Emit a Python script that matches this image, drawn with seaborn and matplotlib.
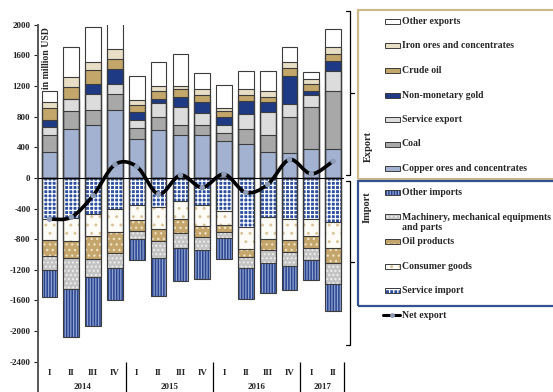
import numpy as np
import matplotlib
matplotlib.use("Agg")
import matplotlib.pyplot as plt
import seaborn as sns
from matplotlib.patches import Rectangle, PathPatch
from matplotlib.path import Path
from matplotlib.lines import Line2D

# ---- data (million USD) ----
quarters = ["I", "II", "III", "IV", "I", "II", "III", "IV", "I", "II", "III", "IV", "I", "II"]
years = ["2014", "2015", "2016", "2017"]
year_sizes = [4, 4, 4, 2]

copper = [343, 635, 696, 883, 509, 630, 565, 565, 478, 439, 343, 326, 383, 374]
coal = [214, 239, 187, 213, 148, 170, 131, 122, 105, 196, 214, 474, 539, 756]
service_exp = [104, 152, 213, 126, 104, 174, 230, 165, 104, 204, 304, 170, 161, 261]
gold = [91, 0, 130, 195, 100, 56, 131, 139, 113, 170, 126, 360, 56, 139]
crude = [165, 165, 183, 131, 87, 109, 100, 92, 74, 78, 74, 100, 87, 83]
iron = [79, 131, 108, 130, 69, 57, 47, 74, 35, 70, 74, 87, 70, 91]
other_exp = [139, 391, 457, 362, 313, 313, 413, 217, 300, 239, 265, 196, 87, 240]

service_imp = [539, 530, 470, 400, 352, 383, 300, 357, 439, 644, 517, 539, 535, 570]
consumer = [274, 292, 291, 309, 200, 287, 239, 269, 174, 286, 283, 274, 230, 343]
oil = [204, 226, 300, 274, 148, 156, 183, 152, 96, 105, 148, 157, 148, 200]
machinery = [192, 409, 235, 200, 100, 218, 191, 161, 82, 148, 169, 178, 157, 274]
other_imp = [348, 621, 643, 417, 270, 495, 435, 383, 266, 395, 387, 322, 269, 348]

net_export = [-539, -513, -230, 174, 148, -213, 35, -126, 48, -191, -87, 239, 52, 217]

# ---- styling ----
sns.set_style("white")
plt.rcParams["font.family"] = ["Liberation Serif", "DejaVu Serif"]
plt.rcParams["font.weight"] = "bold"
plt.rcParams["hatch.linewidth"] = 0.9

W, H = 553, 392
fig = plt.figure(figsize=(W / 100, H / 100), dpi=100)
ax = fig.add_axes([37.5 / W, 0, (344 - 37.5) / W, 367.3 / H])

idx = np.arange(len(quarters))
BAR_W = 0.72
OUTLINE = "#3c3c3c"

# name, values, face, hatch, hatch colour
export_layers = [
    ("Copper ores and concentrates", copper, "#a3b2d0", None, None),
    ("Coal", coal, "#a8a8a8", None, None),
    ("Service export", service_exp, "#dcdcdc", None, None),
    ("Non-monetary gold", gold, "#1e3a84", None, None),
    ("Crude oil", crude, "#c2a66a", None, None),
    ("Iron ores and concentrates", iron, "#e8dec6", None, None),
    ("Other exports", other_exp, "#ffffff", None, None),
]
import_layers = [
    ("Service import", service_imp, "#2d4f9f", "++++", "#ffffff"),
    ("Consumer goods", consumer, "#fdfbf6", "..", "#d9c49a"),
    ("Oil products", oil, "#c4a56b", "...", "#efe3c6"),
    ("Machinery, mechanical equipments\nand parts", machinery, "#c4c4c4", "....", "#f0f0f0"),
    ("Other imports", other_imp, "#2a4590", "||||||", "#8fa2d0"),
]


def draw_stack(layers, sign):
    cums = np.cumsum([np.asarray(v, float) for _, v, *_ in layers], axis=0) * sign
    # fills, outermost first so inner segments sit on top
    for k in range(len(layers) - 1, -1, -1):
        _, _, face, hatch, hcol = layers[k]
        n0 = len(ax.patches)
        sns.barplot(x=idx, y=cums[k], color=face, saturation=1, width=BAR_W,
                    linewidth=0, errorbar=None, ax=ax, zorder=2)
        for p in ax.patches[n0:]:
            p.set_facecolor(face)
            if hatch:
                p.set_edgecolor(hcol)
                p.set_hatch(hatch)
                p.set_linewidth(0)
            else:
                p.set_edgecolor("none")
    # outlines of every segment boundary
    for k in range(len(layers)):
        sns.barplot(x=idx, y=cums[k], fill=False, color=OUTLINE, width=BAR_W,
                    linewidth=0.8, errorbar=None, ax=ax, zorder=3)


draw_stack(export_layers, 1)
draw_stack(import_layers, -1)

ax.axhline(0, color="black", lw=0.8, zorder=4)

# net export: smoothed curve through the quarterly points
pts = np.column_stack([idx, np.asarray(net_export, float)])
verts, codes = [pts[0]], [Path.MOVETO]
for i in range(len(pts) - 1):
    p0 = pts[i - 1] if i > 0 else pts[i]
    p1, p2 = pts[i], pts[i + 1]
    p3 = pts[i + 2] if i + 2 < len(pts) else pts[i + 1]
    verts += [p1 + (p2 - p0) / 6, p2 - (p3 - p1) / 6, p2]
    codes += [Path.CURVE4] * 3
ax.add_patch(PathPatch(Path(verts, codes), fill=False, lw=2.6, edgecolor="black",
                       capstyle="round", joinstyle="round", zorder=6))
sns.scatterplot(x=idx, y=net_export, color="#8e9cb7", s=16, edgecolor="none",
                zorder=7, ax=ax, legend=False)

# axes
ax.set_xlim(-0.55, 13.5)
ax.set_ylim(-2796, 2000)
yt = list(range(-2400, 2001, 400))
ax.set_yticks(yt)
ax.set_yticklabels([str(v) for v in yt], fontsize=6.5, fontweight="bold")
ax.set_xticks([])
ax.set_xlabel("")
ax.set_ylabel("")
for s in ["top", "right", "bottom"]:
    ax.spines[s].set_visible(False)
ax.spines["left"].set_color("#555555")
ax.spines["left"].set_linewidth(1.4)
ax.tick_params(axis="y", direction="out", length=3, width=0.8, pad=2, left=True, colors="#222222")

ax.text(-0.12, 1560, "in million USD", rotation=90, ha="center", va="center",
        fontsize=7, fontweight="bold", zorder=8)

# quarter and year labels under the bars
for i, q in enumerate(quarters):
    ax.text(i, -2545, q, ha="center", va="center", fontsize=6.5, fontweight="bold", clip_on=False)
start = 0
for y, n in zip(years, year_sizes):
    ax.text(start + (n - 1) / 2, -2735, y, ha="center", va="center", fontsize=6.5,
            fontweight="bold", clip_on=False)
    start += n
ax.vlines([3.5, 7.5, 11.5, 13.5], -2796, -2405, colors="black", lw=0.9, clip_on=False)


# ---- side legend ----
def F(x, y):
    return (x / W, 1 - y / H)


def fig_line(xs, ys, **kw):
    fig.add_artist(Line2D([x / W for x in xs], [1 - y / H for y in ys],
                          transform=fig.transFigure, **kw))


def fig_rect(x0, y0, x1, y1, **kw):
    fig.add_artist(Rectangle(F(x0, y1), (x1 - x0) / W, (y1 - y0) / H,
                             transform=fig.transFigure, **kw))


# braces
fig_line([346, 349.5, 349.5, 346], [11, 11, 175, 175], color="black", lw=0.9)
fig_line([349.5, 354], [93, 93], color="black", lw=0.9)
fig_line([346, 349.5, 349.5, 346], [181, 181, 345, 345], color="black", lw=0.9)
fig_line([349.5, 354], [262, 262], color="black", lw=0.9)

# boxes
fig_rect(357.5, 10, 570, 179, fill=False, edgecolor="#cbb98c", lw=1.6)
fig_rect(357.5, 181.5, 570, 306, fill=False, edgecolor="#34528f", lw=1.6)

fig.text(*F(368, 147), "Export", rotation=90, ha="center", va="center", fontsize=7.5,
         fontweight="bold")
fig.text(*F(367, 207), "Import", rotation=90, ha="center", va="center", fontsize=7.5,
         fontweight="bold")

exp_rows = [("Other exports", 21.7), ("Iron ores and concentrates", 45.7), ("Crude oil", 70.3),
            ("Non-monetary gold", 95), ("Service export", 119), ("Coal", 144),
            ("Copper ores and concentrates", 168.3)]
exp_style = {name: (face, hatch, hcol) for name, _, face, hatch, hcol in export_layers}
imp_style = {name: (face, hatch, hcol) for name, _, face, hatch, hcol in import_layers}
imp_rows = [("Other imports", 192.7, 192.7),
            ("Machinery, mechanical equipments\nand parts", 216.7, 222.5),
            ("Oil products", 241.7, 241.7), ("Consumer goods", 266.3, 266.3),
            ("Service import", 290.7, 290.7)]


def key(yc, face, hatch, hcol):
    if hatch:
        fig_rect(385, yc - 2.5, 400, yc + 2.5, facecolor=face, edgecolor=hcol, hatch=hatch, lw=0)
    else:
        fig_rect(385, yc - 2.5, 400, yc + 2.5, facecolor=face, edgecolor="none")
    fig_rect(385, yc - 2.5, 400, yc + 2.5, fill=False, edgecolor=OUTLINE, lw=0.7)


for name, yc in exp_rows:
    key(yc, *exp_style[name])
    fig.text(*F(401.5, yc), name, ha="left", va="center", fontsize=7, fontweight="bold")
for name, yk, yt_ in imp_rows:
    key(yk, *imp_style[name])
    fig.text(*F(401.5, yt_), name, ha="left", va="center", fontsize=7, fontweight="bold",
             linespacing=1.15)

fig_line([383, 400], [315, 315], color="black", lw=2.2)
fig.add_artist(Line2D([391.5 / W], [1 - 315 / H], transform=fig.transFigure, marker="o",
                      markersize=3.5, color="#8e9cb7", markeredgecolor="none"))
fig.text(*F(401.5, 315), "Net export", ha="left", va="center", fontsize=7, fontweight="bold")

fig.savefig("out.png", dpi=100)
